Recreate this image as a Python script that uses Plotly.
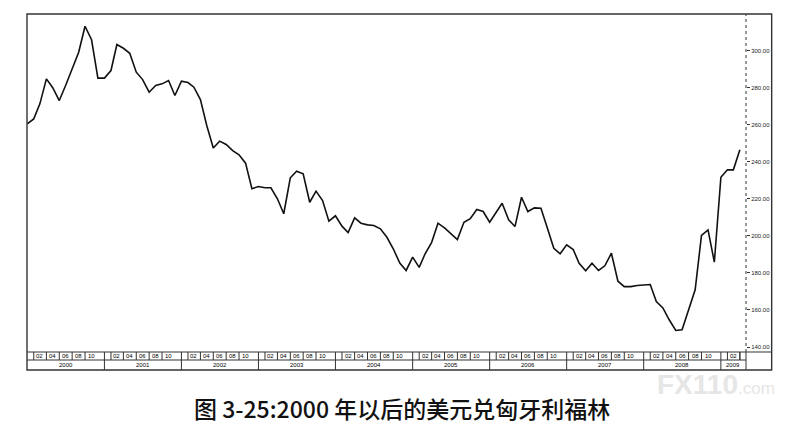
import pandas as pd
import plotly.graph_objects as go

# USD/HUF, monthly, Jan 2000 .. Apr 2009
usd_huf = [
    260.4, 263.1, 271.2, 284.7, 279.9, 273.0, 281.1, 290.1, 299.1, 313.1, 305.8, 285.1,
    285.1, 289.2, 303.2, 301.2, 298.5, 288.3, 284.3, 277.5, 281.1, 282.0, 283.8, 275.7,
    283.4, 282.7, 280.2, 273.5, 259.5, 247.4, 251.1, 249.3, 246.0, 243.7, 239.2, 225.4,
    226.6, 225.9, 225.9, 220.0, 211.9, 231.3, 234.9, 233.5, 218.1, 224.1, 219.0, 207.9,
    210.8, 205.2, 201.8, 209.7, 206.8, 205.9, 205.6, 203.8, 199.2, 193.0, 185.3, 181.3,
    188.5, 183.0, 190.3, 196.5, 206.8, 204.3, 201.4, 198.0, 207.3, 209.2, 214.2, 213.1,
    207.3, 212.7, 217.6, 208.6, 205.0, 220.8, 213.1, 215.1, 214.9, 204.3, 193.3, 190.3,
    195.1, 192.6, 185.2, 181.1, 185.2, 181.3, 183.8, 190.6, 175.5, 172.6, 172.6, 173.2,
    173.3, 173.7, 164.5, 161.1, 154.7, 148.9, 149.3, 160.1, 170.9, 200.2, 203.2, 185.8,
    231.6, 235.6, 235.6, 246.4,
]
dates = pd.date_range("2000-01-01", periods=len(usd_huf), freq="MS")

years = [2000, 2001, 2002, 2003, 2004, 2005, 2006, 2007, 2008, 2009]
month_labels = ["02", "04", "06", "08", "10"]
y_ticks = [140, 160, 180, 200, 220, 240, 260, 280, 300]

X_START, X_END = "1999-12-31", "2009-04-30"
Y_RANGE = [137.3, 319.7]

# strip below the plot, in paper units
ROW_TOP = 0.0
ROW_MID = -0.0237
ROW_BOT = -0.0533
RIGHT_BORDER = 1.0357

fig = go.Figure()
fig.add_scatter(
    x=dates, y=usd_huf, mode="lines",
    line=dict(color="#111111", width=1.6),
    showlegend=False, hoverinfo="x+y",
)

shapes = []
annotations = []
line_style = dict(color="#333333", width=1)

# outer frame
shapes.append(dict(type="rect", xref="paper", yref="paper", x0=0, x1=RIGHT_BORDER,
                   y0=ROW_BOT, y1=1, line=dict(color="#333333", width=1.4)))
# dotted price axis + solid part through the strip
shapes.append(dict(type="line", xref="paper", yref="paper", x0=1, x1=1, y0=0, y1=1,
                   line=dict(color="#333333", width=1, dash="dot")))
shapes.append(dict(type="line", xref="paper", yref="paper", x0=1, x1=1, y0=ROW_BOT, y1=0,
                   line=line_style))
# strip row lines
shapes.append(dict(type="line", xref="paper", yref="paper", x0=0, x1=RIGHT_BORDER,
                   y0=ROW_TOP, y1=ROW_TOP, line=line_style))
shapes.append(dict(type="line", xref="paper", yref="paper", x0=0, x1=1,
                   y0=ROW_MID, y1=ROW_MID, line=line_style))

tiny = dict(family="Liberation Sans, Arial", size=6, color="#000000")
last = pd.Timestamp(X_END)
for yr in years:
    start = pd.Timestamp(f"{yr}-01-01")
    if yr > years[0]:
        shapes.append(dict(type="line", xref="x", yref="paper", x0=start, x1=start,
                           y0=ROW_BOT, y1=ROW_TOP, line=line_style))
    end = min(pd.Timestamp(f"{yr + 1}-01-01"), last)
    annotations.append(dict(x=start + (end - start) / 2, y=(ROW_MID + ROW_BOT) / 2,
                            xref="x", yref="paper", text=str(yr), showarrow=False,
                            xanchor="center", yanchor="middle", font=tiny))
    for i, lab in enumerate(month_labels):
        m = 2 + 2 * i
        tick = pd.Timestamp(f"{yr}-{m:02d}-01")
        if tick >= last:
            break
        shapes.append(dict(type="line", xref="x", yref="paper", x0=tick, x1=tick,
                           y0=ROW_MID, y1=ROW_TOP, line=line_style))
        if yr == years[-1]:
            close = pd.Timestamp(f"{yr}-{m + 2:02d}-01")
            shapes.append(dict(type="line", xref="x", yref="paper", x0=close, x1=close,
                               y0=ROW_MID, y1=ROW_TOP, line=line_style))
        centre = pd.Timestamp(f"{yr}-{m + 1:02d}-01")
        annotations.append(dict(x=centre, y=(ROW_TOP + ROW_MID) / 2, xref="x", yref="paper",
                                text=lab, showarrow=False, xanchor="center",
                                yanchor="middle", font=tiny))

# caption
annotations.append(dict(
    x=0.5216, y=-0.166, xref="paper", yref="paper", showarrow=False,
    xanchor="center", yanchor="middle",
    text="图 3-25:2000 年以后的美元兑匈牙利福林",
    font=dict(family="Noto Sans CJK SC", size=23, color="#111111", weight=500),
))
# faint watermark
annotations.append(dict(
    x=0.958, y=-0.095, xref="paper", yref="paper", showarrow=False,
    xanchor="center", yanchor="middle",
    text="<b>FX110</b><span style='font-size:17px'>.com</span>",
    font=dict(family="Liberation Sans, Arial", size=28, color="#e6e6e6"),
))

# page body has an 8px margin, so the figure is drawn 8px smaller
fig.update_layout(
    width=801, height=429,
    margin=dict(l=19, r=63, t=6, b=85),
    paper_bgcolor="white", plot_bgcolor="white",
    shapes=shapes, annotations=annotations,
    xaxis=dict(range=[X_START, X_END], showgrid=False, showticklabels=False,
               ticks="", zeroline=False, showline=False),
    yaxis=dict(range=Y_RANGE, side="right", tickvals=y_ticks, tickformat=".2f",
               ticks="outside", ticklen=3, tickcolor="#333333",
               tickfont=dict(family="Liberation Sans, Arial", size=6, color="#222222"),
               showgrid=False, zeroline=False, showline=False),
)

fig.write_html("out.html")
